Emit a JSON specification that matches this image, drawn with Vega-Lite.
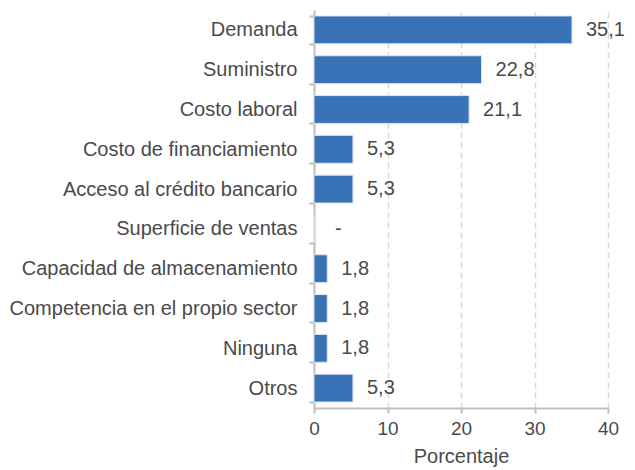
{
  "$schema": "https://vega.github.io/schema/vega-lite/v6.json",
  "width": 294,
  "height": 398,
  "autosize": {"type": "none"},
  "padding": {"left": 314, "top": 10, "right": 27, "bottom": 62},
  "background": "white",
  "config": {"view": {"stroke": null}, "font": "Liberation Sans"},
  "data": {"values": [
    {"cat": "Demanda", "v": 35.1, "lab": "35,1"},
    {"cat": "Suministro", "v": 22.8, "lab": "22,8"},
    {"cat": "Costo laboral", "v": 21.1, "lab": "21,1"},
    {"cat": "Costo de financiamiento", "v": 5.3, "lab": "5,3"},
    {"cat": "Acceso al crédito bancario", "v": 5.3, "lab": "5,3"},
    {"cat": "Superficie de ventas", "v": 0, "lab": "-"},
    {"cat": "Capacidad de almacenamiento", "v": 1.8, "lab": "1,8"},
    {"cat": "Competencia en el propio sector", "v": 1.8, "lab": "1,8"},
    {"cat": "Ninguna", "v": 1.8, "lab": "1,8"},
    {"cat": "Otros", "v": 5.3, "lab": "5,3"}
  ]},
  "encoding": {
    "y": {"field": "cat", "type": "nominal", "sort": null,
      "scale": {"paddingInner": 0.3, "paddingOuter": 0.15},
      "axis": {"title": null, "tickBand": "extent", "domainColor": "#bfbfbf", "domainWidth": 2,
        "tickColor": "#bfbfbf", "tickWidth": 2, "tickSize": 5, "labelFontSize": 20, "labelColor": "#4a4a4a",
        "labelPadding": 12, "labelLimit": 320}},
    "x": {"field": "v", "type": "quantitative",
      "scale": {"domain": [0, 40], "nice": false},
      "axis": {"title": "Porcentaje", "values": [0, 10, 20, 30, 40], "labelFlush": false, "domainColor": "#bfbfbf", "domainWidth": 2,
        "tickColor": "#bfbfbf", "tickWidth": 2, "tickSize": 5, "labelFontSize": 19, "labelColor": "#4a4a4a",
        "labelPadding": 6, "titleFontSize": 20, "titleFontWeight": "normal", "titleColor": "#4a4a4a", "titlePadding": 8,
        "grid": true, "gridColor": "#d9d9d9", "gridDash": [6, 4], "gridWidth": 1.5}}
  },
  "layer": [
    {"mark": {"type": "bar", "color": "#3a72b8", "stroke": "#dce6f2", "strokeWidth": 1}},
    {"transform": [{"filter": "datum.v > 0"}],
     "mark": {"type": "text", "align": "left", "dx": 14, "fontSize": 20, "color": "#4a4a4a"},
     "encoding": {"text": {"field": "lab"}}},
    {"transform": [{"filter": "datum.v == 0"}],
     "mark": {"type": "text", "align": "left", "dx": 21, "fontSize": 20, "color": "#4a4a4a"},
     "encoding": {"text": {"field": "lab"}}}
  ]
}
